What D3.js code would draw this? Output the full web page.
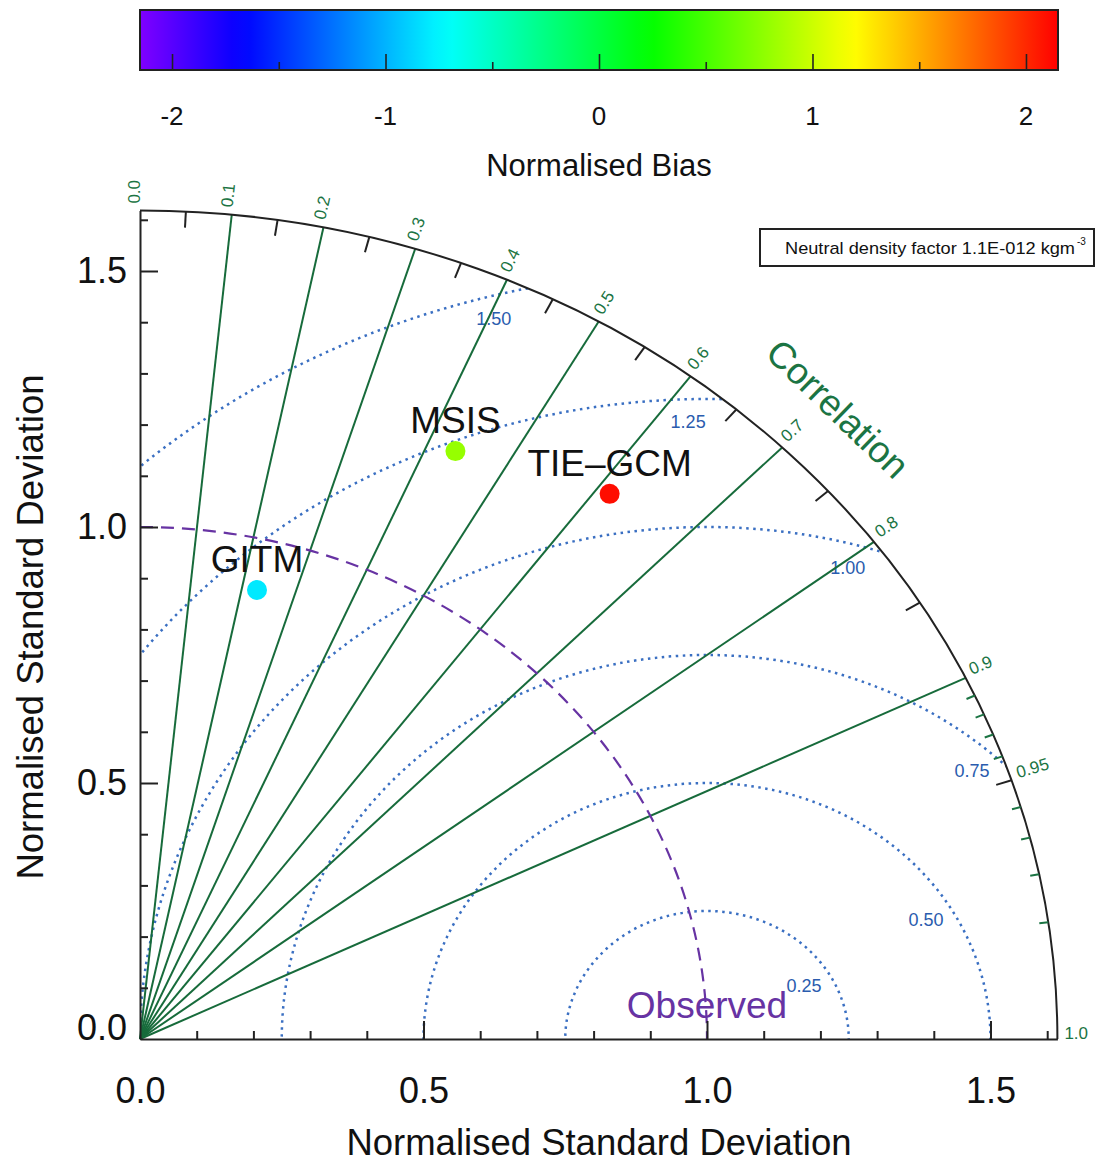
<!DOCTYPE html>
<meta charset="utf-8">
<head>
  <script src="https://d3js.org/d3.v7.min.js"></script>
  <style>
    body { margin: 0; background: #fff; }
    text { font-family: Helvetica, Arial, "Liberation Sans", sans-serif; }
  </style>
</head>
<body>
<div id="taylor"></div>
<script>

// models shown on the diagram
var models = ["GITM", "MSIS", "TIE\u2013GCM"];
var stdDev = [0.901, 1.276, 1.349];  // normalised standard deviation
var corr   = [0.229, 0.436, 0.614];  // correlation with the observations
var bias   = [-0.80, 0.80, 2.10];    // normalised bias, used for the colour

// grid and tick values
var corrLines = [0.1, 0.2, 0.3, 0.4, 0.5, 0.6, 0.7, 0.8, 0.9];
var corrLabelValues = [0.0, 0.1, 0.2, 0.3, 0.4, 0.5, 0.6, 0.7, 0.8, 0.9, 0.95, 1.0];
var corrLabelText = ["0.0", "0.1", "0.2", "0.3", "0.4", "0.5", "0.6", "0.7", "0.8", "0.9", "0.95", "1.0"];
var corrMajorTicks = [0.05, 0.15, 0.25, 0.35, 0.45, 0.55, 0.65, 0.75, 0.85, 0.95];
var corrMinorTicks = [0.91, 0.92, 0.93, 0.94, 0.96, 0.97, 0.98, 0.99];
var rmsLevels = [0.25, 0.50, 0.75, 1.00, 1.25, 1.50];
var rmsLabelText = ["0.25", "0.50", "0.75", "1.00", "1.25", "1.50"];
var sdLabels = [0.0, 0.5, 1.0, 1.5];
var sdMajorTicks = [0.5, 1.0, 1.5];
var sdMinorTicks = [0.1, 0.2, 0.3, 0.4, 0.6, 0.7, 0.8, 0.9, 1.1, 1.2, 1.3, 1.4, 1.6];
var biasTicks = [-2, -1, 0, 1, 2];
var biasMinorTicks = [-1.5, -0.5, 0.5, 1.5];
var refStd = 1.0;
var maxStd = 1.618;
var biasMax = 2.15;

var W = 1097, H = 1165;
var green = "#1b7443", greenLine = "#176b3b", blue = "#3a6fc2", purple = "#6733a3";

var svg = d3.select("#taylor").append("svg")
    .attr("width", W)
    .attr("height", H);

// scales (the diagram is stretched, x and y use different pixel sizes)
var x = d3.scaleLinear().domain([0, maxStd]).range([140, 140 + maxStd * 567]);
var y = d3.scaleLinear().domain([0, maxStd]).range([1039, 1039 - maxStd * 512]);

var hue = d3.scaleLinear().domain([-biasMax, biasMax]).range([270, 0]);
function biasColour(b) { return d3.hsl(hue(b), 1, 0.5).formatHex(); }

function pos(r, c) {
  return [x(r * c), y(r * Math.sqrt(1 - c * c))];
}
// screen angle of the radial line for a correlation
function screenAngle(c) {
  var p = pos(1, c);
  return Math.atan2(y(0) - p[1], p[0] - x(0));
}

// ---------- colour bar ----------
var cb = d3.scaleLinear().domain([-biasMax, biasMax]).range([140, 1058]);
var defs = svg.append("defs");
var grad = defs.append("linearGradient").attr("id", "biasgrad");
d3.range(0, 1.0001, 0.02).forEach(function(t) {
  grad.append("stop")
    .attr("offset", t)
    .attr("stop-color", biasColour(-biasMax + t * 2 * biasMax));
});
svg.append("rect")
  .attr("x", cb(-biasMax)).attr("y", 10)
  .attr("width", cb(biasMax) - cb(-biasMax)).attr("height", 60)
  .attr("fill", "url(#biasgrad)")
  .attr("stroke", "#222").attr("stroke-width", 2);

svg.append("g").attr("transform", "translate(0,70)")
  .call(d3.axisBottom(cb).tickValues(biasTicks).tickSize(-16).tickFormat(""))
  .call(function(g) { g.select(".domain").remove(); g.selectAll("line").attr("stroke", "#222").attr("stroke-width", 1.6); });
svg.append("g").attr("transform", "translate(0,70)")
  .call(d3.axisBottom(cb).tickValues(biasMinorTicks).tickSize(-8).tickFormat(""))
  .call(function(g) { g.select(".domain").remove(); g.selectAll("line").attr("stroke", "#222").attr("stroke-width", 1.6); });

svg.append("g").selectAll("text").data(biasTicks).join("text")
  .attr("x", function(d) { return cb(d); })
  .attr("y", 125)
  .attr("text-anchor", "middle")
  .attr("font-size", 26)
  .attr("fill", "#111")
  .text(function(d) { return d; });

svg.append("text")
  .attr("x", cb(0)).attr("y", 176)
  .attr("text-anchor", "middle")
  .attr("font-size", 31)
  .attr("fill", "#111")
  .text("Normalised Bias");

// ---------- Taylor diagram ----------
var rx = x(maxStd) - x(0), ry = y(0) - y(maxStd);
var sector = "M" + x(0) + "," + y(0) + "L" + x(0) + "," + y(maxStd) +
  "A" + rx + "," + ry + " 0 0 1 " + x(maxStd) + "," + y(0) + "Z";

defs.append("clipPath").attr("id", "sector").append("path").attr("d", sector);

var plot = svg.append("g");

// RMS difference circles round the reference point
plot.append("g").attr("clip-path", "url(#sector)")
  .selectAll("ellipse").data(rmsLevels).join("ellipse")
  .attr("cx", x(refStd)).attr("cy", y(0))
  .attr("rx", function(d) { return x(d) - x(0); })
  .attr("ry", function(d) { return y(0) - y(d); })
  .attr("fill", "none")
  .attr("stroke", blue)
  .attr("stroke-width", 2.5)
  .attr("stroke-dasharray", "2.5 4.5");

// RMS labels, just inside where each circle meets the outer arc
plot.append("g").selectAll("text").data(rmsLevels).join("text")
  .each(function(r, i) {
    var xi = (maxStd * maxStd + refStd * refStd - r * r) / (2 * refStd);
    var th = 28;
    if (xi < maxStd) {
      th = Math.max(th, Math.atan2(Math.sqrt(maxStd * maxStd - xi * xi), xi - refStd) * 180 / Math.PI);
    }
    th = (th + 2.6) * Math.PI / 180;
    var rr = r - 0.045;
    d3.select(this)
      .attr("x", x(refStd + rr * Math.cos(th)) - 3)
      .attr("y", y(rr * Math.sin(th)))
      .text(rmsLabelText[i]);
  })
  .attr("text-anchor", "middle")
  .attr("dominant-baseline", "central")
  .attr("font-size", 18)
  .attr("fill", "#2a5cae");

// correlation lines
plot.append("g").selectAll("line").data(corrLines).join("line")
  .attr("x1", x(0)).attr("y1", y(0))
  .attr("x2", function(c) { return pos(maxStd, c)[0]; })
  .attr("y2", function(c) { return pos(maxStd, c)[1]; })
  .attr("stroke", greenLine)
  .attr("stroke-width", 2);

// reference standard deviation arc
plot.append("path")
  .attr("d", "M" + x(0) + "," + y(refStd) + "A" + (x(refStd) - x(0)) + "," + (y(0) - y(refStd)) +
    " 0 0 1 " + x(refStd) + "," + y(0))
  .attr("fill", "none")
  .attr("stroke", purple)
  .attr("stroke-width", 2.2)
  .attr("stroke-dasharray", "13 8");

// outer arc
plot.append("path")
  .attr("d", "M" + x(0) + "," + y(maxStd) + "A" + rx + "," + ry + " 0 0 1 " + x(maxStd) + "," + y(0))
  .attr("fill", "none")
  .attr("stroke", "#222")
  .attr("stroke-width", 2);

// ticks on the outer arc, pointing inwards
function arcTicks(vals, len, colour) {
  plot.append("g").selectAll("line").data(vals).join("line")
    .each(function(c) {
      var p = pos(maxStd, c), a = screenAngle(c);
      d3.select(this)
        .attr("x1", p[0]).attr("y1", p[1])
        .attr("x2", p[0] - len * Math.cos(a))
        .attr("y2", p[1] + len * Math.sin(a));
    })
    .attr("stroke", colour)
    .attr("stroke-width", 2);
}
arcTicks(corrMajorTicks, 16, "#222");
arcTicks(corrMinorTicks, 9, green);

// correlation labels outside the arc
plot.append("g").selectAll("text").data(corrLabelValues).join("text")
  .attr("transform", function(c) {
    var p = pos(maxStd, c), a = screenAngle(c);
    var px = p[0] + 7 * Math.cos(a), py = p[1] - 7 * Math.sin(a);
    return "translate(" + px + "," + py + ") rotate(" + (-a * 180 / Math.PI) + ")";
  })
  .attr("font-size", 17)
  .attr("fill", green)
  .text(function(c, i) { return corrLabelText[i]; });

plot.append("text")
  .attr("transform", "translate(" + x(1.74 * Math.SQRT1_2) + "," + y(1.74 * Math.SQRT1_2) + ") rotate(44)")
  .attr("text-anchor", "middle")
  .attr("dominant-baseline", "central")
  .attr("font-size", 37)
  .attr("fill", green)
  .text("Correlation");

// standard deviation axes
function styleAxis(g) {
  g.selectAll("line").attr("stroke", "#222").attr("stroke-width", 2);
  g.select(".domain").attr("stroke", "#222").attr("stroke-width", 2);
  g.selectAll("text").attr("fill", "#111");
  g.attr("font-size", 36).attr("font-family", null);
}
var xAxisG = plot.append("g").attr("transform", "translate(0," + y(0) + ")");
xAxisG.append("g").call(d3.axisBottom(x).tickValues(sdMinorTicks).tickSize(-8).tickSizeOuter(0).tickFormat("")).call(styleAxis);
xAxisG.append("g").call(d3.axisBottom(x).tickValues(sdMajorTicks).tickSize(-18).tickFormat("")).call(styleAxis)
  .call(function(g) { g.select(".domain").remove(); });
xAxisG.append("g").call(d3.axisBottom(x).tickValues(sdLabels).tickSize(0).tickPadding(38).tickFormat(d3.format(".1f"))).call(styleAxis)
  .call(function(g) { g.select(".domain").remove(); });

var yAxisG = plot.append("g").attr("transform", "translate(" + x(0) + ",0)");
yAxisG.append("g").call(d3.axisLeft(y).tickValues(sdMinorTicks).tickSize(-8).tickSizeOuter(0).tickFormat("")).call(styleAxis);
yAxisG.append("g").call(d3.axisLeft(y).tickValues(sdMajorTicks).tickSize(-18).tickFormat("")).call(styleAxis)
  .call(function(g) { g.select(".domain").remove(); });
yAxisG.append("g").call(d3.axisLeft(y).tickValues(sdLabels).tickSize(0).tickPadding(13).tickFormat(d3.format(".1f"))).call(styleAxis)
  .call(function(g) {
    g.select(".domain").remove();
    // lift the zero label clear of the x axis
    g.selectAll(".tick").filter(function(d) { return d === 0; }).select("text").attr("y", -11);
  });

svg.append("text")
  .attr("x", 599).attr("y", 1155)
  .attr("text-anchor", "middle")
  .attr("font-size", 36.5)
  .attr("fill", "#111")
  .text("Normalised Standard Deviation");

svg.append("text")
  .attr("transform", "translate(43,627) rotate(-90)")
  .attr("text-anchor", "middle")
  .attr("font-size", 36.5)
  .attr("fill", "#111")
  .text("Normalised Standard Deviation");

plot.append("text")
  .attr("x", x(refStd)).attr("y", 1018)
  .attr("text-anchor", "middle")
  .attr("font-size", 37)
  .attr("fill", purple)
  .text("Observed");

// model points
var pts = plot.append("g").selectAll("g").data(models).join("g")
  .attr("transform", function(m, i) {
    var p = pos(stdDev[i], corr[i]);
    return "translate(" + p[0] + "," + p[1] + ")";
  });
pts.append("circle")
  .attr("r", 10)
  .attr("fill", function(m, i) { return biasColour(bias[i]); });
pts.append("text")
  .attr("y", -18)
  .attr("text-anchor", "middle")
  .attr("font-size", 37)
  .attr("fill", "#111")
  .text(function(m) { return m; });

// scaling note
var note = svg.append("g");
note.append("rect")
  .attr("x", 760).attr("y", 229)
  .attr("width", 334).attr("height", 37)
  .attr("fill", "#fff")
  .attr("stroke", "#222")
  .attr("stroke-width", 2);
note.append("text")
  .attr("x", 785).attr("y", 254)
  .attr("font-size", 17)
  .attr("textLength", 290)
  .attr("lengthAdjust", "spacingAndGlyphs")
  .attr("fill", "#111")
  .text("Neutral density factor 1.1E-012 kgm");
note.append("text")
  .attr("x", 1077).attr("y", 245)
  .attr("font-size", 10)
  .attr("fill", "#111")
  .text("-3");

</script>
</body>
